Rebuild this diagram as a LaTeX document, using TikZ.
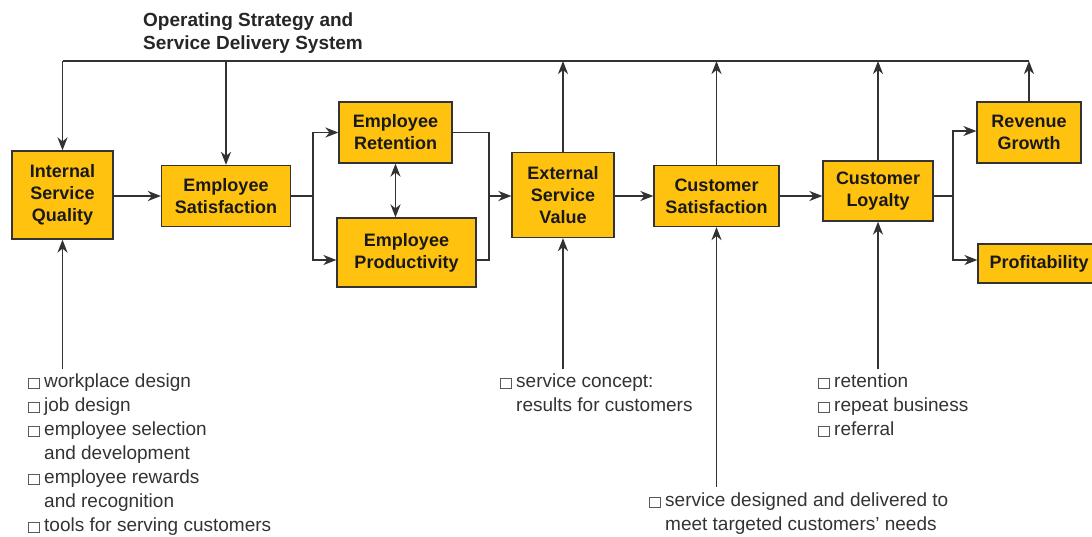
\documentclass[tikz,border=0pt]{standalone}
\usepackage{fontspec}
\setmainfont{Liberation Sans}
\usetikzlibrary{arrows.meta}
\definecolor{boxyel}{RGB}{255,194,14}
\definecolor{linegray}{RGB}{50,50,50}
\newcommand{\itm}{\makebox[16pt][l]{\setlength{\fboxsep}{0pt}\setlength{\fboxrule}{0.9pt}\textcolor{black!65}{\fbox{\rule{0pt}{9.5pt}\rule{9.5pt}{0pt}}}}}
\newcommand{\ind}{\hspace*{16pt}}

\begin{document}
\begin{tikzpicture}[x=1pt,y=-1pt,
    blk/.style={draw=black!80, fill=boxyel, line width=1.2pt, inner sep=0pt, align=center, text=black!90, font=\fontsize{18}{22}\selectfont\bfseries},
    lst/.style={anchor=north west, inner sep=0pt, align=left, text=black!80, font=\fontsize{19}{24}\selectfont},
    wire/.style={line width=1.8pt, draw=linegray},
    >={Stealth[length=13pt,width=10pt,inset=4pt]}]
    \clip (0,0) rectangle (1092,536);
    \draw (143,13) node[anchor=north west, inner sep=0pt, align=left, text=black!85, font=\fontsize{19}{23}\selectfont\bfseries] (title) {Operating Strategy and\\Service Delivery System};
    \draw (62.5,195) node[blk, minimum width=101pt, minimum height=88pt] (isq) {Internal\\Service\\Quality};
    \draw (226,196) node[blk, minimum width=129pt, minimum height=61pt] (esat) {Employee\\Satisfaction};
    \draw (395.5,132.5) node[blk, minimum width=113pt, minimum height=61pt] (eret) {Employee\\Retention};
    \draw (406.5,252.5) node[blk, minimum width=139pt, minimum height=69pt] (eprod) {Employee\\Productivity};
    \draw (563,195) node[blk, minimum width=102pt, minimum height=85pt] (esv) {External\\Service\\Value};
    \draw (716.5,196) node[blk, minimum width=125pt, minimum height=61pt] (csat) {Customer\\Satisfaction};
    \draw (878,191) node[blk, minimum width=110pt, minimum height=60pt] (cloy) {Customer\\Loyalty};
    \draw (1029,132.5) node[blk, minimum width=104pt, minimum height=61pt] (rev) {Revenue\\Growth};
    \draw (1039,263.5) node[blk, minimum width=122pt, minimum height=39pt] (prof) {Profitability};
    \coordinate (top) at (0,61);
    \coordinate (j1) at (313,196);
    \coordinate (j2) at (489,196);
    \coordinate (j3) at (953,196);
    \coordinate (s1) at (62.5,369);
    \coordinate (s2) at (563,369);
    \coordinate (s3) at (716.5,487);
    \coordinate (s4) at (878,369);
    % strategy line
    \draw[wire] (isq.north |- top) -- (rev.north |- top);
    \draw[wire,->] (isq.north |- top) -- (isq.north);
    \draw[wire,->] (esat.north |- top) -- (esat.north);
    \draw[wire,->] (esv.north) -- (esv.north |- top);
    \draw[wire,->] (csat.north) -- (csat.north |- top);
    \draw[wire,->] (cloy.north) -- (cloy.north |- top);
    \draw[wire,->] (rev.north) -- (rev.north |- top);
    % chain
    \draw[wire,->] (isq.east |- j1) -- (esat.west |- j1);
    \draw[wire] (esat.east) -- (j1);
    \draw[wire,->] (j1) |- (eret.west);
    \draw[wire,->] (j1) |- ([yshift=-7.5pt]eprod.west);
    \draw[wire,<->] (eret.south) -- (eret.south |- eprod.north);
    \draw[wire] (eret.east) -| (j2) |- ([yshift=-7.5pt]eprod.east);
    \draw[wire,->] (j2) -- (j2 -| esv.west);
    \draw[wire,->] (esv.east |- j2) -- (csat.west |- j2);
    \draw[wire,->] (csat.east |- j2) -- (cloy.west |- j2);
    \draw[wire] (cloy.east |- j3) -- (j3);
    \draw[wire,->] (j3) |- ([yshift=1.5pt]rev.west);
    \draw[wire,->] (j3) |- ([yshift=3.5pt]prof.west);
    % inputs
    \draw[wire,->] (s1) -- (isq.south);
    \draw[wire,->] (s2) -- (esv.south);
    \draw[wire,->] (s3) -- (csat.south);
    \draw[wire,->] (s4) -- (cloy.south);
    \draw (28,374) node[lst] (lq) {\itm workplace design\\\itm job design\\\itm employee selection\\\ind and development\\\itm employee rewards\\\ind and recognition\\\itm tools for serving customers};
    \draw (500,374) node[lst] (lv) {\itm service concept:\\\ind results for customers};
    \draw (649,493) node[lst] (ls) {\itm service designed and delivered to\\\ind meet targeted customers' needs};
    \draw (818,374) node[lst] (ll) {\itm retention\\\itm repeat business\\\itm referral};
\end{tikzpicture}
\end{document}
